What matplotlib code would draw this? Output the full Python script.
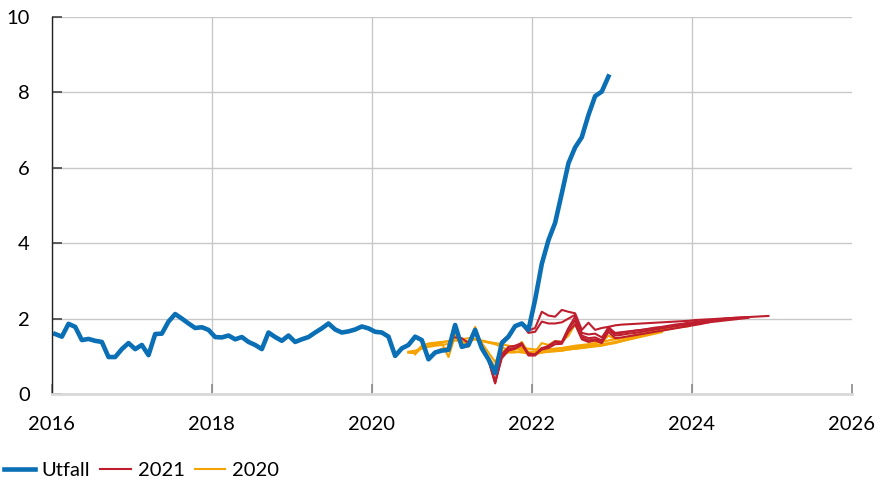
import matplotlib
matplotlib.use('Agg')
import matplotlib.pyplot as plt
import numpy as np

plt.rcParams['font.family'] = ['Lato', 'DejaVu Sans']

# Outcome, monthly from Jan 2016
utfall_start = '2016-01'
utfall = [
    1.59, 1.52, 1.86, 1.78, 1.43, 1.46, 1.41, 1.38, 0.98, 0.98, 1.19, 1.35,
    1.19, 1.30, 1.03, 1.59, 1.60, 1.92, 2.12, 2.00, 1.87, 1.75, 1.77, 1.70,
    1.51, 1.50, 1.55, 1.45, 1.51, 1.38, 1.30, 1.19, 1.63, 1.51, 1.41, 1.55,
    1.38, 1.45, 1.51, 1.63, 1.74, 1.87, 1.71, 1.63, 1.66, 1.71, 1.79, 1.74,
    1.65, 1.63, 1.52, 1.01, 1.21, 1.30, 1.52, 1.43, 0.92, 1.10, 1.15, 1.17,
    1.83, 1.25, 1.30, 1.70, 1.21, 0.92, 0.55, 1.35, 1.52, 1.80, 1.87, 1.70,
    2.50, 3.45, 4.08, 4.54, 5.32, 6.12, 6.54, 6.81, 7.40, 7.90, 8.02, 8.42,
]

# Forecasts made in 2021 (start month, monthly values)
f2021_a_start = '2021-01'
f2021_a = [
    1.50, 1.48, 1.35, 1.72, 1.28, 0.90, 0.30, 0.95, 1.15, 1.20, 1.30, 1.05,
    1.05, 1.18, 1.22, 1.32, 1.33, 1.65, 1.85, 1.45, 1.38, 1.42, 1.35, 1.65,
    1.48, 1.50, 1.53, 1.56, 1.59, 1.62, 1.65, 1.68, 1.71, 1.74, 1.77, 1.80,
    1.83, 1.86, 1.90,
]
f2021_b_start = '2021-03'
f2021_b = [
    1.32, 1.70, 1.25, 0.92, 0.32, 1.00, 1.20, 1.22, 1.32, 1.08,
    1.05, 1.22, 1.25, 1.38, 1.35, 1.72, 1.95, 1.50, 1.42, 1.45, 1.40, 1.72,
    1.55, 1.57, 1.60, 1.62, 1.65, 1.68, 1.71, 1.74, 1.77, 1.80, 1.83, 1.86,
    1.89, 1.92, 1.94, 1.96, 1.98, 2.00,
]
f2021_c_start = '2021-06'
f2021_c = [
    0.90, 0.28, 1.05, 1.25, 1.28, 1.35, 1.02,
    1.02, 1.20, 1.28, 1.40, 1.38, 1.75, 2.05, 1.55, 1.48, 1.50, 1.42, 1.78,
    1.60, 1.62, 1.65, 1.68, 1.70, 1.73, 1.76, 1.78, 1.81, 1.84, 1.86, 1.89,
    1.91, 1.93, 1.95, 1.97, 1.99, 2.01, 2.02, 2.03, 2.04,
]
f2021_d_start = '2021-08'
f2021_d = [
    1.40, 1.55, 1.78, 1.85, 1.62,
    1.65, 1.92, 1.87, 1.87, 1.90, 2.00, 2.10, 1.62, 1.58, 1.60, 1.50, 1.75,
    1.62, 1.64, 1.66, 1.68, 1.70, 1.72, 1.74, 1.76, 1.78, 1.80, 1.82, 1.84,
    1.86, 1.88, 1.90, 1.92, 1.94, 1.96, 1.98, 2.00, 2.02,
]
f2021_e_start = '2021-10'
f2021_e = [
    1.80, 1.87, 1.68,
    1.75, 2.18, 2.08, 2.05, 2.23, 2.18, 2.14, 1.70, 1.89, 1.70, 1.75, 1.78,
    1.82, 1.84, 1.85, 1.86, 1.87, 1.88, 1.89, 1.90, 1.91, 1.92, 1.93, 1.94,
    1.96, 1.97, 1.98, 1.99, 2.00, 2.01, 2.02, 2.03, 2.04, 2.05, 2.06, 2.07,
]

# Forecasts made in 2020
f2020_a_start = '2020-06'
f2020_a = [
    1.10, 1.10, 1.28, 1.34, 1.36, 1.38, 1.40,
    1.50, 1.45, 1.48, 1.45, 1.40, 1.36, 1.32, 1.25, 1.15, 1.12, 1.10, 1.08,
    1.08, 1.10, 1.12, 1.13, 1.15, 1.18, 1.20, 1.22, 1.25, 1.28, 1.30, 1.33,
    1.36, 1.40, 1.44, 1.48, 1.52, 1.56, 1.60, 1.64,
]
f2020_b_start = '2020-06'
f2020_b = [
    1.10, 1.08, 1.22, 1.30, 1.32, 1.35, 0.98,
    1.55, 1.30, 1.25, 1.75, 1.30, 0.98, 0.72, 1.05, 1.10, 1.10, 1.15, 1.05,
    1.05, 1.10, 1.12, 1.15, 1.15, 1.18, 1.20, 1.22, 1.24, 1.26, 1.28, 1.32,
    1.35, 1.40, 1.45, 1.50, 1.55, 1.60, 1.64, 1.68, 1.72, 1.75, 1.78, 1.80,
]
f2020_c_start = '2020-10'
f2020_c = [
    1.12, 1.20, 1.22,
    1.65, 1.28, 1.30, 1.78, 1.25, 0.95, 0.65, 1.10, 1.15, 1.20, 1.38, 1.10,
    1.12, 1.35, 1.30, 1.40, 1.38, 1.55, 1.85, 1.50, 1.40, 1.40, 1.38, 1.55,
    1.45, 1.48, 1.52, 1.55, 1.58, 1.62, 1.65, 1.68, 1.72, 1.75, 1.78, 1.80,
]
f2020_d_start = '2020-07'
f2020_d = [
    1.05, 1.25, 1.32, 1.35, 1.37, 1.40,
    1.50, 1.35, 1.35, 1.60, 1.35, 1.10, 0.85, 1.15, 1.15, 1.18, 1.20, 1.12,
    1.12, 1.15, 1.18, 1.20, 1.22, 1.25, 1.28, 1.30, 1.32, 1.35, 1.38, 1.42,
    1.45, 1.48, 1.52, 1.56, 1.60, 1.64, 1.68, 1.72, 1.75,
]
f2020_e_start = '2020-06'
f2020_e = [
    1.12, 1.15, 1.20, 1.25, 1.28, 1.30, 1.33,
    1.42, 1.40, 1.40, 1.45, 1.42, 1.38, 1.35, 1.32, 1.28, 1.25, 1.22, 1.20,
    1.18, 1.18, 1.18, 1.20, 1.20, 1.22, 1.24, 1.26, 1.28, 1.30, 1.32, 1.35,
    1.38, 1.42, 1.46, 1.50, 1.54,
]

forecasts_2021 = [(f2021_a_start, f2021_a), (f2021_b_start, f2021_b),
                  (f2021_c_start, f2021_c), (f2021_d_start, f2021_d),
                  (f2021_e_start, f2021_e)]
forecasts_2020 = [(f2020_a_start, f2020_a), (f2020_b_start, f2020_b),
                  (f2020_c_start, f2020_c), (f2020_d_start, f2020_d),
                  (f2020_e_start, f2020_e)]

BLUE = '#0a6fb5'
RED = '#be1e2d'
ORANGE = '#f5a300'


def month_pos(start, n):
    # mid-month position as decimal year
    y, m = map(int, start.split('-'))
    idx = y * 12 + (m - 1) + np.arange(n)
    return idx / 12 + 0.5 / 12


fig = plt.figure(figsize=(8.79, 4.84), dpi=100)
ax = fig.add_axes([0.059, 0.186, 0.910, 0.779])

for start, vals in forecasts_2020:
    ax.plot(month_pos(start, len(vals)), vals, color=ORANGE, linewidth=1.5)
for start, vals in forecasts_2021:
    ax.plot(month_pos(start, len(vals)), vals, color=RED, linewidth=1.5)
ax.plot(month_pos(utfall_start, len(utfall)), utfall, color=BLUE, linewidth=3.3,
        solid_joinstyle='round')

ax.set_xlim(2016, 2026)
ax.set_ylim(0, 10)
ax.set_xticks(range(2016, 2027, 2))
ax.set_yticks(range(0, 11, 2))
ax.grid(True, color='#c8c8c8', linewidth=1.0)
ax.set_axisbelow(True)
for gl in ax.xaxis.get_gridlines()[-1:]:
    gl.set_visible(False)

ax.spines['top'].set_visible(False)
ax.spines['right'].set_visible(False)
ax.spines['left'].set_color('#222222')
ax.spines['left'].set_linewidth(1.0)
ax.spines['bottom'].set_color('#d9d9d9')
ax.spines['bottom'].set_linewidth(2.0)

ax.tick_params(axis='y', direction='in', length=7, width=1.2, color='#444444',
               labelsize=14.5, pad=16)
ax.tick_params(axis='x', direction='in', length=7, width=1.2, color='#8a8a8a',
               labelsize=14.5, pad=16)

handles = [plt.Line2D([], [], color=BLUE, linewidth=3.3),
           plt.Line2D([], [], color=RED, linewidth=1.5),
           plt.Line2D([], [], color=ORANGE, linewidth=1.5)]
fig.legend(handles, ['Utfall', '2021', '2020'], loc='center left',
           bbox_to_anchor=(0.005, 0.027), ncol=3, frameon=False,
           fontsize=14.5, handlelength=1.5, handletextpad=0.35,
           columnspacing=0.5, borderpad=0, borderaxespad=0)

fig.savefig('out.png', dpi=100)
